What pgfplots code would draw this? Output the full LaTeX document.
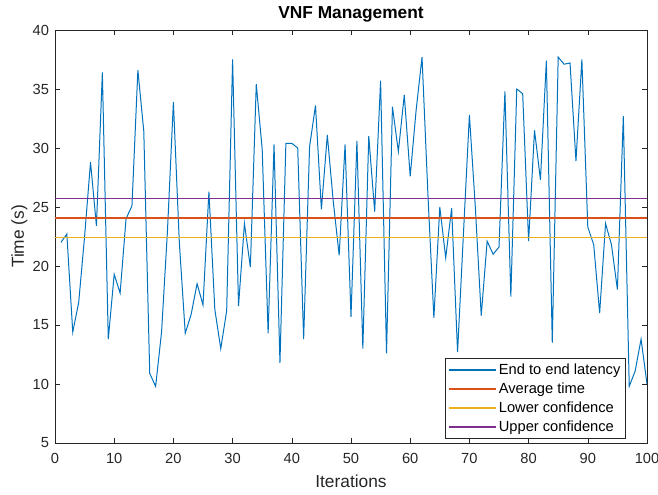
\documentclass[border=0pt]{standalone}
\usepackage{fontspec}
\setmainfont{Liberation Sans}
\usepackage{pgfplots}
\pgfplotsset{compat=1.18}

\definecolor{mblue}{rgb}{0,0.447,0.741}
\definecolor{morange}{rgb}{0.85,0.325,0.098}
\definecolor{myellow}{rgb}{0.929,0.694,0.125}
\definecolor{mpurple}{rgb}{0.494,0.184,0.556}
\definecolor{axgray}{rgb}{0.15,0.15,0.15}

\pgfplotstableread{
x y
1 22.0
2 22.7
3 14.4
4 16.9
5 22.5
6 28.8
7 23.4
8 36.4
9 13.8
10 19.3
11 17.7
12 24.0
13 25.1
14 36.6
15 31.4
16 10.9
17 9.8
18 14.4
19 23.0
20 33.9
21 22.0
22 14.3
23 15.9
24 18.5
25 16.7
26 26.3
27 16.3
28 13.0
29 16.2
30 37.5
31 16.6
32 23.6
33 19.9
34 35.4
35 29.9
36 14.3
37 30.3
38 11.8
39 30.4
40 30.4
41 30.0
42 13.8
43 30.1
44 33.6
45 24.8
46 31.1
47 25.5
48 20.9
49 30.3
50 15.7
51 30.6
52 13.0
53 31.0
54 24.6
55 35.7
56 12.6
57 33.5
58 29.7
59 34.5
60 27.6
61 33.2
62 37.7
63 26.0
64 15.6
65 25.0
66 20.7
67 24.9
68 12.7
69 22.8
70 32.8
71 25.0
72 15.8
73 22.1
74 21.0
75 21.6
76 34.8
77 17.4
78 35.0
79 34.6
80 22.1
81 31.5
82 27.3
83 37.4
84 13.5
85 37.7
86 37.1
87 37.2
88 28.9
89 37.5
90 23.3
91 21.8
92 16.0
93 23.6
94 21.8
95 18.0
96 32.7
97 9.8
98 11.1
99 13.8
100 10.0
}\latency

\begin{document}
\begin{tikzpicture}
\useasboundingbox (0,0) rectangle (493.5pt,371.25pt);
\begin{axis}[
at={(41.25pt,39pt)}, anchor=south west,
scale only axis,
width=444pt, height=309.75pt,
xmin=0, xmax=100, ymin=5, ymax=40,
xtick={0,10,...,100}, ytick={5,10,...,40},
tick align=inside,
major tick length=4pt,
axis line style={axgray, line width=0.4pt},
every tick/.style={axgray, line width=0.4pt},
tick label style={font=\fontsize{11}{13}\selectfont, text=axgray},
xticklabel style={yshift=-4pt},
yticklabel style={xshift=-1pt},
/pgf/number format/assume math mode=true,
title={\fontsize{13}{15}\selectfont\bfseries VNF Management},
title style={yshift=-4pt},
xlabel={Iterations},
ylabel={Time (s)},
label style={font=\fontsize{13}{15}\selectfont, text=axgray},
xlabel style={yshift=-2pt},
ylabel style={yshift=-3pt},
legend cell align={left},
legend style={at={(0.9645,0.0097)}, anchor=south east,
  draw=axgray, line width=0.4pt,
  font=\fontsize{11}{13}\selectfont,
  row sep=0.8pt, inner sep=2pt},
legend image code/.code={\draw[#1, line width=0.9pt] (0pt,0pt) -- (35pt,0pt);},
]
\addplot[mblue, line width=0.75pt] table[x=x,y=y] {\latency};
\addlegendentry{End to end latency}
\addplot[morange, line width=1pt] coordinates {(0,24.07) (100,24.07)};
\addlegendentry{Average time}
\addplot[myellow, line width=1pt] coordinates {(0,22.44) (100,22.44)};
\addlegendentry{Lower confidence}
\addplot[mpurple, line width=1pt] coordinates {(0,25.7) (100,25.7)};
\addlegendentry{Upper confidence}
\end{axis}
\end{tikzpicture}
\end{document}
